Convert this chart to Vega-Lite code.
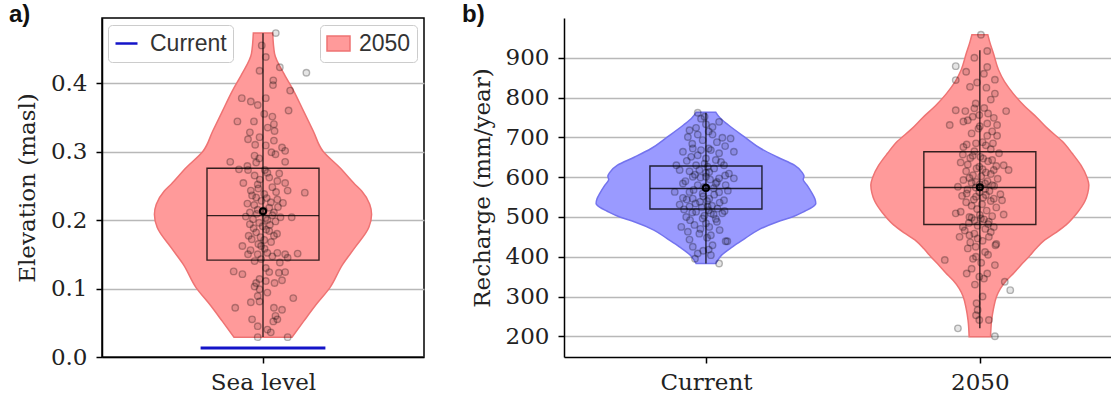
{
  "$schema": "https://vega.github.io/schema/vega-lite/v6.json",
  "background": "white",
  "padding": {"left": 8, "top": 2, "right": 0, "bottom": 3},
  "bounds": "flush",
  "spacing": 140,
  "datasets": {
    "va": [
      {"v": 0.473, "lo": -0.031, "hi": 0.031},
      {"v": 0.443, "lo": -0.037, "hi": 0.037},
      {"v": 0.413, "lo": -0.068, "hi": 0.068},
      {"v": 0.388, "lo": -0.099, "hi": 0.099},
      {"v": 0.359, "lo": -0.130, "hi": 0.130},
      {"v": 0.330, "lo": -0.161, "hi": 0.161},
      {"v": 0.300, "lo": -0.193, "hi": 0.193},
      {"v": 0.277, "lo": -0.245, "hi": 0.245},
      {"v": 0.252, "lo": -0.295, "hi": 0.295},
      {"v": 0.242, "lo": -0.317, "hi": 0.317},
      {"v": 0.223, "lo": -0.342, "hi": 0.342},
      {"v": 0.208, "lo": -0.348, "hi": 0.348},
      {"v": 0.189, "lo": -0.339, "hi": 0.339},
      {"v": 0.160, "lo": -0.295, "hi": 0.295},
      {"v": 0.135, "lo": -0.255, "hi": 0.255},
      {"v": 0.101, "lo": -0.214, "hi": 0.214},
      {"v": 0.077, "lo": -0.171, "hi": 0.171},
      {"v": 0.052, "lo": -0.130, "hi": 0.130},
      {"v": 0.029, "lo": -0.093, "hi": 0.093}
    ],
    "vb": [
      {"g": "Current", "v": 763, "lo": -0.036, "hi": 0.036},
      {"g": "Current", "v": 750, "lo": -0.050, "hi": 0.050},
      {"g": "Current", "v": 731, "lo": -0.082, "hi": 0.082},
      {"g": "Current", "v": 700, "lo": -0.143, "hi": 0.143},
      {"g": "Current", "v": 672, "lo": -0.200, "hi": 0.200},
      {"g": "Current", "v": 650, "lo": -0.262, "hi": 0.262},
      {"g": "Current", "v": 630, "lo": -0.323, "hi": 0.323},
      {"g": "Current", "v": 612, "lo": -0.351, "hi": 0.351},
      {"g": "Current", "v": 602, "lo": -0.358, "hi": 0.358},
      {"g": "Current", "v": 594, "lo": -0.355, "hi": 0.355},
      {"g": "Current", "v": 580, "lo": -0.369, "hi": 0.369},
      {"g": "Current", "v": 560, "lo": -0.387, "hi": 0.387},
      {"g": "Current", "v": 545, "lo": -0.398, "hi": 0.398},
      {"g": "Current", "v": 534, "lo": -0.401, "hi": 0.401},
      {"g": "Current", "v": 524, "lo": -0.387, "hi": 0.387},
      {"g": "Current", "v": 515, "lo": -0.362, "hi": 0.362},
      {"g": "Current", "v": 500, "lo": -0.315, "hi": 0.315},
      {"g": "Current", "v": 488, "lo": -0.262, "hi": 0.262},
      {"g": "Current", "v": 467, "lo": -0.190, "hi": 0.190},
      {"g": "Current", "v": 446, "lo": -0.143, "hi": 0.143},
      {"g": "Current", "v": 425, "lo": -0.097, "hi": 0.097},
      {"g": "Current", "v": 404, "lo": -0.057, "hi": 0.057},
      {"g": "Current", "v": 383, "lo": -0.036, "hi": 0.036},
      {"g": "2050", "v": 958, "lo": 0.971, "hi": 1.029},
      {"g": "2050", "v": 940, "lo": 0.964, "hi": 1.036},
      {"g": "2050", "v": 910, "lo": 0.950, "hi": 1.050},
      {"g": "2050", "v": 870, "lo": 0.932, "hi": 1.068},
      {"g": "2050", "v": 840, "lo": 0.910, "hi": 1.090},
      {"g": "2050", "v": 810, "lo": 0.878, "hi": 1.122},
      {"g": "2050", "v": 780, "lo": 0.839, "hi": 1.161},
      {"g": "2050", "v": 750, "lo": 0.792, "hi": 1.208},
      {"g": "2050", "v": 720, "lo": 0.749, "hi": 1.251},
      {"g": "2050", "v": 690, "lo": 0.699, "hi": 1.301},
      {"g": "2050", "v": 660, "lo": 0.663, "hi": 1.337},
      {"g": "2050", "v": 630, "lo": 0.631, "hi": 1.369},
      {"g": "2050", "v": 600, "lo": 0.609, "hi": 1.391},
      {"g": "2050", "v": 580, "lo": 0.602, "hi": 1.398},
      {"g": "2050", "v": 560, "lo": 0.606, "hi": 1.394},
      {"g": "2050", "v": 540, "lo": 0.616, "hi": 1.384},
      {"g": "2050", "v": 510, "lo": 0.645, "hi": 1.355},
      {"g": "2050", "v": 480, "lo": 0.685, "hi": 1.315},
      {"g": "2050", "v": 460, "lo": 0.724, "hi": 1.276},
      {"g": "2050", "v": 440, "lo": 0.767, "hi": 1.233},
      {"g": "2050", "v": 420, "lo": 0.796, "hi": 1.204},
      {"g": "2050", "v": 400, "lo": 0.821, "hi": 1.179},
      {"g": "2050", "v": 380, "lo": 0.849, "hi": 1.151},
      {"g": "2050", "v": 360, "lo": 0.875, "hi": 1.125},
      {"g": "2050", "v": 340, "lo": 0.903, "hi": 1.097},
      {"g": "2050", "v": 320, "lo": 0.925, "hi": 1.075},
      {"g": "2050", "v": 300, "lo": 0.939, "hi": 1.061},
      {"g": "2050", "v": 270, "lo": 0.950, "hi": 1.050},
      {"g": "2050", "v": 240, "lo": 0.957, "hi": 1.043},
      {"g": "2050", "v": 199, "lo": 0.961, "hi": 1.039}
    ],
    "pa": [
      {"x": 0.041, "v": 0.473}, {"x": -0.004, "v": 0.455}, {"x": 0.009, "v": 0.438}, {"x": 0.054, "v": 0.423},
      {"x": -0.011, "v": 0.418}, {"x": 0.139, "v": 0.415}, {"x": 0.033, "v": 0.404}, {"x": 0.032, "v": 0.397},
      {"x": 0.087, "v": 0.389}, {"x": -0.068, "v": 0.378}, {"x": 0.009, "v": 0.378}, {"x": -0.039, "v": 0.373},
      {"x": -0.017, "v": 0.368}, {"x": 0.082, "v": 0.360}, {"x": 0.004, "v": 0.355}, {"x": 0.030, "v": 0.351},
      {"x": -0.082, "v": 0.344}, {"x": -0.029, "v": 0.344}, {"x": 0.035, "v": 0.340}, {"x": 0.037, "v": 0.330},
      {"x": -0.042, "v": 0.328}, {"x": -0.048, "v": 0.318}, {"x": -0.011, "v": 0.321}, {"x": 0.035, "v": 0.316},
      {"x": 0.009, "v": 0.309}, {"x": 0.061, "v": 0.306}, {"x": 0.027, "v": 0.299}, {"x": 0.071, "v": 0.301},
      {"x": -0.027, "v": 0.294}, {"x": -0.105, "v": 0.285}, {"x": 0.071, "v": 0.285}, {"x": -0.022, "v": 0.284},
      {"x": -0.050, "v": 0.279}, {"x": -0.077, "v": 0.274}, {"x": -0.048, "v": 0.273}, {"x": 0.014, "v": 0.269},
      {"x": -0.027, "v": 0.265}, {"x": 0.046, "v": 0.257}, {"x": -0.063, "v": 0.254}, {"x": -0.017, "v": 0.252},
      {"x": 0.071, "v": 0.254}, {"x": -0.039, "v": 0.243}, {"x": 0.079, "v": 0.243}, {"x": 0.134, "v": 0.240},
      {"x": 0.004, "v": 0.238}, {"x": -0.022, "v": 0.233}, {"x": 0.046, "v": 0.230}, {"x": 0.064, "v": 0.225},
      {"x": -0.050, "v": 0.224}, {"x": 0.020, "v": 0.218}, {"x": -0.017, "v": 0.215}, {"x": -0.042, "v": 0.211},
      {"x": 0.035, "v": 0.211}, {"x": 0.092, "v": 0.204}, {"x": -0.032, "v": 0.201}, {"x": 0.014, "v": 0.200},
      {"x": 0.056, "v": 0.204}, {"x": -0.042, "v": 0.194}, {"x": -0.001, "v": 0.191}, {"x": 0.020, "v": 0.184},
      {"x": -0.022, "v": 0.182}, {"x": -0.046, "v": 0.177}, {"x": 0.035, "v": 0.177}, {"x": 0.004, "v": 0.171},
      {"x": -0.066, "v": 0.162}, {"x": -0.006, "v": 0.162}, {"x": 0.014, "v": 0.152}, {"x": -0.017, "v": 0.150},
      {"x": 0.046, "v": 0.152}, {"x": 0.071, "v": 0.150}, {"x": 0.111, "v": 0.151}, {"x": -0.048, "v": 0.150},
      {"x": 0.079, "v": 0.145}, {"x": -0.027, "v": 0.140}, {"x": 0.009, "v": 0.130}, {"x": 0.054, "v": 0.138},
      {"x": -0.094, "v": 0.125}, {"x": -0.066, "v": 0.121}, {"x": 0.020, "v": 0.124}, {"x": 0.051, "v": 0.123},
      {"x": 0.071, "v": 0.124}, {"x": -0.011, "v": 0.114}, {"x": 0.009, "v": 0.111}, {"x": -0.022, "v": 0.108},
      {"x": 0.037, "v": 0.108}, {"x": 0.061, "v": 0.112}, {"x": -0.027, "v": 0.103}, {"x": -0.011, "v": 0.099},
      {"x": 0.014, "v": 0.094}, {"x": 0.097, "v": 0.086}, {"x": -0.017, "v": 0.089}, {"x": -0.039, "v": 0.080},
      {"x": -0.011, "v": 0.081}, {"x": -0.089, "v": 0.072}, {"x": 0.035, "v": 0.072}, {"x": 0.061, "v": 0.069},
      {"x": -0.035, "v": 0.055}, {"x": 0.040, "v": 0.060}, {"x": 0.033, "v": 0.052}, {"x": 0.046, "v": 0.055},
      {"x": -0.017, "v": 0.045}, {"x": 0.014, "v": 0.040}, {"x": 0.025, "v": 0.036}, {"x": -0.017, "v": 0.029},
      {"x": 0.079, "v": 0.029},
      {"x": 0.020, "v": 0.262}, {"x": -0.010, "v": 0.259}, {"x": 0.030, "v": 0.248}, {"x": -0.015, "v": 0.246},
      {"x": 0.042, "v": 0.241}, {"x": -0.035, "v": 0.236}, {"x": 0.012, "v": 0.232}, {"x": -0.005, "v": 0.228},
      {"x": 0.025, "v": 0.226}, {"x": -0.028, "v": 0.222}, {"x": 0.048, "v": 0.219}, {"x": 0.003, "v": 0.214},
      {"x": -0.020, "v": 0.209}, {"x": 0.030, "v": 0.207}, {"x": -0.055, "v": 0.205}, {"x": 0.008, "v": 0.203},
      {"x": 0.040, "v": 0.198}, {"x": -0.012, "v": 0.196}, {"x": 0.022, "v": 0.193}, {"x": -0.030, "v": 0.188},
      {"x": 0.010, "v": 0.186}, {"x": 0.045, "v": 0.180}, {"x": -0.008, "v": 0.175}, {"x": -0.036, "v": 0.172},
      {"x": 0.026, "v": 0.168}, {"x": -0.015, "v": 0.165}, {"x": 0.005, "v": 0.158}, {"x": -0.040, "v": 0.156},
      {"x": 0.030, "v": 0.147}, {"x": -0.006, "v": 0.143}, {"x": 0.052, "v": 0.268}, {"x": 0.006, "v": 0.273},
      {"x": -0.012, "v": 0.290}, {"x": 0.040, "v": 0.296}, {"x": -0.025, "v": 0.310}, {"x": 0.015, "v": 0.335}
    ],
    "pb": [
      {"x": -0.030, "v": 762}, {"x": -0.018, "v": 747}, {"x": -0.036, "v": 724}, {"x": 0.024, "v": 726},
      {"x": 0.048, "v": 739}, {"x": -0.066, "v": 701}, {"x": -0.030, "v": 707}, {"x": 0.024, "v": 707},
      {"x": 0.060, "v": 699}, {"x": -0.012, "v": 693}, {"x": -0.084, "v": 664}, {"x": -0.048, "v": 672},
      {"x": -0.018, "v": 668}, {"x": 0.018, "v": 668}, {"x": 0.048, "v": 660}, {"x": 0.102, "v": 664},
      {"x": -0.054, "v": 651}, {"x": 0.000, "v": 647}, {"x": 0.036, "v": 643}, {"x": -0.108, "v": 630},
      {"x": -0.036, "v": 630}, {"x": 0.006, "v": 626}, {"x": 0.066, "v": 630}, {"x": -0.096, "v": 618},
      {"x": -0.024, "v": 618}, {"x": 0.012, "v": 613}, {"x": 0.084, "v": 609}, {"x": -0.048, "v": 601},
      {"x": 0.000, "v": 601}, {"x": 0.048, "v": 597}, {"x": 0.102, "v": 597}, {"x": -0.084, "v": 584},
      {"x": -0.030, "v": 580}, {"x": 0.036, "v": 584}, {"x": 0.072, "v": 580}, {"x": -0.114, "v": 563},
      {"x": -0.060, "v": 563}, {"x": -0.012, "v": 559}, {"x": 0.048, "v": 562}, {"x": -0.084, "v": 548},
      {"x": -0.048, "v": 546}, {"x": 0.012, "v": 546}, {"x": 0.066, "v": 542}, {"x": -0.022, "v": 538},
      {"x": -0.096, "v": 531}, {"x": -0.060, "v": 526}, {"x": 0.006, "v": 526}, {"x": 0.042, "v": 521},
      {"x": -0.036, "v": 513}, {"x": 0.018, "v": 509}, {"x": 0.060, "v": 509}, {"x": -0.072, "v": 500},
      {"x": -0.012, "v": 496}, {"x": 0.036, "v": 495}, {"x": -0.042, "v": 480}, {"x": 0.012, "v": 475},
      {"x": -0.090, "v": 475}, {"x": -0.066, "v": 463}, {"x": -0.024, "v": 458}, {"x": 0.018, "v": 454},
      {"x": 0.072, "v": 439}, {"x": 0.078, "v": 439}, {"x": -0.048, "v": 425}, {"x": 0.024, "v": 429},
      {"x": -0.030, "v": 408}, {"x": 0.018, "v": 404}, {"x": 0.048, "v": 383},
      {"x": 0.010, "v": 672}, {"x": -0.030, "v": 655}, {"x": -0.070, "v": 641}, {"x": 0.055, "v": 638},
      {"x": -0.005, "v": 634}, {"x": 0.030, "v": 622}, {"x": -0.060, "v": 615}, {"x": 0.000, "v": 611},
      {"x": -0.040, "v": 606}, {"x": 0.070, "v": 604}, {"x": -0.020, "v": 599}, {"x": 0.015, "v": 594},
      {"x": -0.075, "v": 590}, {"x": 0.040, "v": 588}, {"x": -0.005, "v": 576}, {"x": 0.028, "v": 572},
      {"x": -0.045, "v": 568}, {"x": 0.080, "v": 566}, {"x": 0.030, "v": 556}, {"x": -0.010, "v": 552},
      {"x": -0.070, "v": 544}, {"x": 0.004, "v": 540}, {"x": 0.050, "v": 536}, {"x": -0.038, "v": 534},
      {"x": 0.022, "v": 528}, {"x": -0.015, "v": 524}, {"x": -0.080, "v": 519}, {"x": 0.010, "v": 517},
      {"x": 0.068, "v": 515}, {"x": -0.050, "v": 511}, {"x": 0.028, "v": 506}, {"x": -0.006, "v": 503},
      {"x": -0.058, "v": 492}, {"x": 0.040, "v": 488}, {"x": 0.000, "v": 484}, {"x": -0.020, "v": 470},
      {"x": 0.050, "v": 467}, {"x": 0.004, "v": 448}, {"x": -0.060, "v": 443}, {"x": 0.010, "v": 418},
      {"x": -0.010, "v": 415}, {"x": -0.040, "v": 395}, {"x": 0.040, "v": 688}, {"x": -0.050, "v": 684},
      {"x": 0.070, "v": 678}, {"x": 0.010, "v": 715}, {"x": -0.060, "v": 718}, {"x": 0.000, "v": 733},
      {"x": -0.005, "v": 752}, {"x": 0.090, "v": 697},
      {"x": 1.004, "v": 958}, {"x": 1.027, "v": 917}, {"x": 0.980, "v": 900}, {"x": 0.912, "v": 879},
      {"x": 0.950, "v": 865}, {"x": 1.027, "v": 877}, {"x": 1.055, "v": 845}, {"x": 0.912, "v": 844},
      {"x": 0.964, "v": 827}, {"x": 1.024, "v": 825}, {"x": 1.055, "v": 810}, {"x": 0.912, "v": 768},
      {"x": 0.947, "v": 766}, {"x": 0.980, "v": 773}, {"x": 1.016, "v": 774}, {"x": 1.096, "v": 766},
      {"x": 0.974, "v": 752}, {"x": 0.998, "v": 756}, {"x": 0.890, "v": 731}, {"x": 0.956, "v": 743},
      {"x": 1.027, "v": 735}, {"x": 1.051, "v": 749}, {"x": 1.063, "v": 731}, {"x": 0.995, "v": 722},
      {"x": 1.027, "v": 704}, {"x": 1.063, "v": 704}, {"x": 0.952, "v": 682}, {"x": 0.986, "v": 685},
      {"x": 1.022, "v": 680}, {"x": 1.048, "v": 685}, {"x": 0.938, "v": 657}, {"x": 0.974, "v": 654},
      {"x": 1.012, "v": 647}, {"x": 1.045, "v": 643}, {"x": 1.087, "v": 630}, {"x": 1.105, "v": 618},
      {"x": 0.956, "v": 632}, {"x": 0.998, "v": 626}, {"x": 1.022, "v": 612}, {"x": 1.051, "v": 618},
      {"x": 0.920, "v": 576}, {"x": 0.962, "v": 598}, {"x": 0.986, "v": 588}, {"x": 1.019, "v": 584},
      {"x": 1.045, "v": 580}, {"x": 1.081, "v": 542}, {"x": 1.087, "v": 506}, {"x": 0.952, "v": 559},
      {"x": 0.986, "v": 551}, {"x": 1.022, "v": 555}, {"x": 1.051, "v": 546}, {"x": 0.912, "v": 509},
      {"x": 0.962, "v": 500}, {"x": 0.980, "v": 492}, {"x": 1.004, "v": 496}, {"x": 1.033, "v": 488},
      {"x": 1.051, "v": 475}, {"x": 0.938, "v": 475}, {"x": 0.926, "v": 450}, {"x": 0.962, "v": 454},
      {"x": 0.992, "v": 446}, {"x": 1.033, "v": 450}, {"x": 1.057, "v": 429}, {"x": 0.956, "v": 421},
      {"x": 0.986, "v": 400}, {"x": 1.019, "v": 412}, {"x": 0.872, "v": 392}, {"x": 0.952, "v": 358},
      {"x": 0.998, "v": 350}, {"x": 1.027, "v": 358}, {"x": 1.055, "v": 379}, {"x": 1.091, "v": 337},
      {"x": 1.111, "v": 316}, {"x": 0.988, "v": 283}, {"x": 0.992, "v": 266}, {"x": 0.986, "v": 253},
      {"x": 0.998, "v": 241}, {"x": 1.033, "v": 241}, {"x": 0.920, "v": 220}, {"x": 1.055, "v": 200},
      {"x": 1.010, "v": 688}, {"x": 0.940, "v": 676}, {"x": 1.040, "v": 670}, {"x": 0.980, "v": 665},
      {"x": 1.070, "v": 660}, {"x": 1.002, "v": 651}, {"x": 0.965, "v": 648}, {"x": 1.030, "v": 640},
      {"x": 0.930, "v": 637}, {"x": 1.060, "v": 628}, {"x": 0.988, "v": 622}, {"x": 1.010, "v": 620},
      {"x": 0.950, "v": 615}, {"x": 1.040, "v": 608}, {"x": 0.975, "v": 605}, {"x": 1.005, "v": 602},
      {"x": 1.065, "v": 596}, {"x": 0.940, "v": 593}, {"x": 1.028, "v": 590}, {"x": 0.970, "v": 586},
      {"x": 1.000, "v": 582}, {"x": 1.052, "v": 578}, {"x": 0.985, "v": 574}, {"x": 1.020, "v": 571},
      {"x": 0.955, "v": 569}, {"x": 1.035, "v": 565}, {"x": 0.998, "v": 562}, {"x": 1.075, "v": 557},
      {"x": 0.935, "v": 553}, {"x": 1.012, "v": 549}, {"x": 0.978, "v": 544}, {"x": 1.040, "v": 540},
      {"x": 0.950, "v": 537}, {"x": 1.008, "v": 532}, {"x": 0.970, "v": 528}, {"x": 1.060, "v": 524},
      {"x": 0.990, "v": 520}, {"x": 1.025, "v": 516}, {"x": 0.930, "v": 513}, {"x": 1.000, "v": 505},
      {"x": 1.045, "v": 502}, {"x": 0.970, "v": 498}, {"x": 1.015, "v": 494}, {"x": 0.960, "v": 485},
      {"x": 1.030, "v": 482}, {"x": 0.992, "v": 478}, {"x": 1.020, "v": 470}, {"x": 0.945, "v": 466},
      {"x": 1.040, "v": 462}, {"x": 0.980, "v": 458}, {"x": 1.010, "v": 440}, {"x": 0.965, "v": 436},
      {"x": 1.060, "v": 432}, {"x": 0.985, "v": 425}, {"x": 1.030, "v": 405}, {"x": 0.975, "v": 395},
      {"x": 1.005, "v": 385}, {"x": 0.970, "v": 370}, {"x": 1.015, "v": 345}, {"x": 0.982, "v": 330},
      {"x": 1.010, "v": 300}, {"x": 0.970, "v": 710}, {"x": 1.045, "v": 715}, {"x": 1.000, "v": 728},
      {"x": 0.940, "v": 740}, {"x": 1.030, "v": 760}, {"x": 0.985, "v": 785}, {"x": 1.040, "v": 795},
      {"x": 0.990, "v": 838}, {"x": 1.015, "v": 860}
    ],
    "sa": [{"pos": 0, "min": 0.0293, "q1": 0.1415, "med": 0.2064, "q3": 0.2757, "max": 0.4729, "mean": 0.2128}],
    "sb": [
      {"g": "Current", "pos": 0, "min": 383, "q1": 520, "med": 571.5, "q3": 628, "max": 762, "mean": 573},
      {"g": "2050", "pos": 1, "min": 220, "q1": 481, "med": 574, "q3": 664, "max": 919, "mean": 574.5}
    ],
    "cur": [{"level": 0.0132}]
  },
  "hconcat": [
    {
      "width": 322,
      "height": 339,
      "title": {"text": "a)", "anchor": "start", "frame": "group", "dx": -93, "offset": -28, "baseline": "alphabetic", "font": "Liberation Sans", "fontSize": 24, "fontWeight": "bold", "color": "#111111"},
      "layer": [
        {
          "data": {"name": "va"},
          "mark": {"type": "area", "orient": "horizontal", "interpolate": "monotone", "stroke": "#ee7373", "strokeWidth": 1.5},
          "encoding": {
            "y": {"field": "v", "type": "quantitative", "scale": {"domain": [0, 0.495], "nice": false, "zero": false},
                  "axis": {"values": [0, 0.1, 0.2, 0.3, 0.4], "format": ".1f", "title": "Elevation (masl)", "grid": true}},
            "x": {"field": "lo", "type": "quantitative", "scale": {"domain": [-0.5, 0.5], "nice": false, "zero": false},
                  "axis": {"values": [0], "labelExpr": "'Sea level'", "title": null, "grid": false}},
            "x2": {"field": "hi"},
            "fill": {"datum": "2050", "scale": {"range": ["#ff9a9a"]},
                     "legend": {"title": null, "orient": "none", "legendX": 218, "legendY": 7, "symbolType": "M-1,-0.65L1,-0.65L1,0.65L-1,0.65Z", "symbolSize": 529, "symbolStrokeColor": "#ee7373", "symbolStrokeWidth": 1.5, "labelOffset": 8, "padding": 6, "strokeColor": "#cccccc", "fillColor": "#ffffff", "cornerRadius": 4, "labelFont": "Liberation Sans", "labelFontSize": 23, "labelColor": "#333333",
                                "encode": {"symbols": {"update": {"stroke": {"value": "#ee7373"}, "strokeWidth": {"value": 1.5}, "fill": {"value": "#ff9a9a"}, "opacity": {"value": 1}}}}}}
          }
        },
        {
          "data": {"name": "pa"},
          "mark": {"type": "point", "shape": "circle", "size": 42, "filled": true, "fill": "black", "fillOpacity": 0.1, "stroke": "black", "strokeOpacity": 0.28, "strokeWidth": 1.4},
          "encoding": {
            "x": {"field": "x", "type": "quantitative", "scale": {"domain": [-0.5, 0.5], "nice": false, "zero": false}},
            "y": {"field": "v", "type": "quantitative", "scale": {"domain": [0, 0.495], "nice": false, "zero": false}}
          }
        },
        {
          "data": {"name": "sa"},
          "mark": {"type": "bar", "width": 112, "fill": "transparent", "stroke": "black", "strokeOpacity": 0.8, "strokeWidth": 1.4},
          "encoding": {
            "x": {"field": "pos", "type": "quantitative", "scale": {"domain": [-0.5, 0.5], "nice": false, "zero": false}},
            "y": {"field": "q1", "type": "quantitative", "scale": {"domain": [0, 0.495], "nice": false, "zero": false}},
            "y2": {"field": "q3"}
          }
        },
        {
          "data": {"name": "sa"},
          "mark": {"type": "tick", "orient": "horizontal", "size": 112, "thickness": 1.4, "color": "black", "opacity": 0.8},
          "encoding": {
            "x": {"field": "pos", "type": "quantitative", "scale": {"domain": [-0.5, 0.5], "nice": false, "zero": false}},
            "y": {"field": "med", "type": "quantitative", "scale": {"domain": [0, 0.495], "nice": false, "zero": false}}
          }
        },
        {
          "data": {"name": "sa"},
          "mark": {"type": "rule", "color": "black", "strokeOpacity": 0.85, "strokeWidth": 1.3},
          "encoding": {
            "x": {"field": "pos", "type": "quantitative", "scale": {"domain": [-0.5, 0.5], "nice": false, "zero": false}},
            "y": {"field": "min", "type": "quantitative", "scale": {"domain": [0, 0.495], "nice": false, "zero": false}},
            "y2": {"field": "max"}
          }
        },
        {
          "data": {"name": "sa"},
          "mark": {"type": "point", "shape": "circle", "size": 36, "filled": false, "stroke": "black", "strokeWidth": 2.2, "opacity": 1},
          "encoding": {
            "x": {"field": "pos", "type": "quantitative", "scale": {"domain": [-0.5, 0.5], "nice": false, "zero": false}},
            "y": {"field": "mean", "type": "quantitative", "scale": {"domain": [0, 0.495], "nice": false, "zero": false}}
          }
        },
        {
          "data": {"name": "cur"},
          "mark": {"type": "rule", "strokeWidth": 3},
          "encoding": {
            "y": {"field": "level", "type": "quantitative", "scale": {"domain": [0, 0.495], "nice": false, "zero": false}},
            "x": {"datum": -0.2, "type": "quantitative", "scale": {"domain": [-0.5, 0.5], "nice": false, "zero": false}},
            "x2": {"datum": 0.2},
            "stroke": {"datum": "Current", "scale": {"range": ["#1414c8"]},
                       "legend": {"title": null, "orient": "none", "legendX": 6, "legendY": 7, "symbolType": "stroke", "symbolSize": 484, "symbolStrokeWidth": 2.5, "labelOffset": 11, "padding": 6, "strokeColor": "#cccccc", "fillColor": "#ffffff", "cornerRadius": 4, "labelFont": "Liberation Sans", "labelFontSize": 23, "labelColor": "#333333",
                                  "encode": {"symbols": {"update": {"stroke": {"value": "#1414c8"}, "strokeWidth": {"value": 2.5}}}}}}
          }
        }
      ]
    },
    {
      "width": 547,
      "height": 339,
      "view": {"stroke": null},
      "title": {"text": "b)", "anchor": "start", "frame": "group", "dx": -102, "offset": -28, "baseline": "alphabetic", "font": "Liberation Sans", "fontSize": 24, "fontWeight": "bold", "color": "#111111"},
      "layer": [
        {
          "data": {"name": "vb"},
          "mark": {"type": "area", "orient": "horizontal", "interpolate": "monotone", "strokeWidth": 1.5},
          "encoding": {
            "y": {"field": "v", "type": "quantitative", "scale": {"domain": [148, 1000], "nice": false, "zero": false},
                  "axis": {"values": [200, 300, 400, 500, 600, 700, 800, 900], "title": "Recharge (mm/year)", "grid": true}},
            "x": {"field": "lo", "type": "quantitative", "scale": {"domain": [-0.5, 1.4606], "nice": false, "zero": false},
                  "axis": {"values": [0, 1], "labelExpr": "datum.value == 0 ? 'Current' : '2050'", "title": null, "grid": false}},
            "x2": {"field": "hi"},
            "fill": {"field": "g", "type": "nominal", "scale": {"domain": ["Current", "2050"], "range": ["#9a9aff", "#ff9a9a"]}, "legend": null},
            "stroke": {"field": "g", "type": "nominal", "scale": {"domain": ["Current", "2050"], "range": ["#7373ee", "#ee7373"]}, "legend": null}
          }
        },
        {
          "data": {"name": "pb"},
          "mark": {"type": "point", "shape": "circle", "size": 42, "filled": true, "fill": "black", "fillOpacity": 0.1, "stroke": "black", "strokeOpacity": 0.28, "strokeWidth": 1.4},
          "encoding": {
            "x": {"field": "x", "type": "quantitative", "scale": {"domain": [-0.5, 1.4606], "nice": false, "zero": false}},
            "y": {"field": "v", "type": "quantitative", "scale": {"domain": [148, 1000], "nice": false, "zero": false}}
          }
        },
        {
          "data": {"name": "sb"},
          "mark": {"type": "bar", "width": 112, "fill": "transparent", "stroke": "black", "strokeOpacity": 0.8, "strokeWidth": 1.4},
          "encoding": {
            "x": {"field": "pos", "type": "quantitative", "scale": {"domain": [-0.5, 1.4606], "nice": false, "zero": false}},
            "y": {"field": "q1", "type": "quantitative", "scale": {"domain": [148, 1000], "nice": false, "zero": false}},
            "y2": {"field": "q3"}
          }
        },
        {
          "data": {"name": "sb"},
          "mark": {"type": "tick", "orient": "horizontal", "size": 112, "thickness": 1.4, "color": "black", "opacity": 0.8},
          "encoding": {
            "x": {"field": "pos", "type": "quantitative", "scale": {"domain": [-0.5, 1.4606], "nice": false, "zero": false}},
            "y": {"field": "med", "type": "quantitative", "scale": {"domain": [148, 1000], "nice": false, "zero": false}}
          }
        },
        {
          "data": {"name": "sb"},
          "mark": {"type": "rule", "color": "black", "strokeOpacity": 0.85, "strokeWidth": 1.3},
          "encoding": {
            "x": {"field": "pos", "type": "quantitative", "scale": {"domain": [-0.5, 1.4606], "nice": false, "zero": false}},
            "y": {"field": "min", "type": "quantitative", "scale": {"domain": [148, 1000], "nice": false, "zero": false}},
            "y2": {"field": "max"}
          }
        },
        {
          "data": {"name": "sb"},
          "mark": {"type": "point", "shape": "circle", "size": 36, "filled": false, "stroke": "black", "strokeWidth": 2.2, "opacity": 1},
          "encoding": {
            "x": {"field": "pos", "type": "quantitative", "scale": {"domain": [-0.5, 1.4606], "nice": false, "zero": false}},
            "y": {"field": "mean", "type": "quantitative", "scale": {"domain": [148, 1000], "nice": false, "zero": false}}
          }
        },
        {
          "mark": {"type": "rule", "color": "black", "strokeWidth": 1.5},
          "encoding": {
            "y": {"datum": 1000, "type": "quantitative", "scale": {"domain": [148, 1000], "nice": false, "zero": false}}
          }
        }
      ]
    }
  ],
  "resolve": {"scale": {"x": "independent", "y": "independent", "fill": "independent", "stroke": "independent"}},
  "config": {
    "view": {"stroke": "black", "strokeWidth": 1.5},
    "axis": {
      "labelFont": "DejaVu Serif", "labelFontSize": 23, "labelColor": "#222222",
      "titleFont": "DejaVu Serif", "titleFontSize": 23, "titleFontWeight": "normal", "titleColor": "#222222",
      "domainColor": "black", "domainWidth": 1.5, "tickColor": "black", "tickWidth": 1.5, "tickSize": 6,
      "labelPadding": 9, "titlePadding": 11, "gridColor": "#b8b8b8", "gridWidth": 1.6,
      "labelFlush": false, "labelOverlap": false
    },
    "axisX": {"labelPadding": 8}
  }
}
